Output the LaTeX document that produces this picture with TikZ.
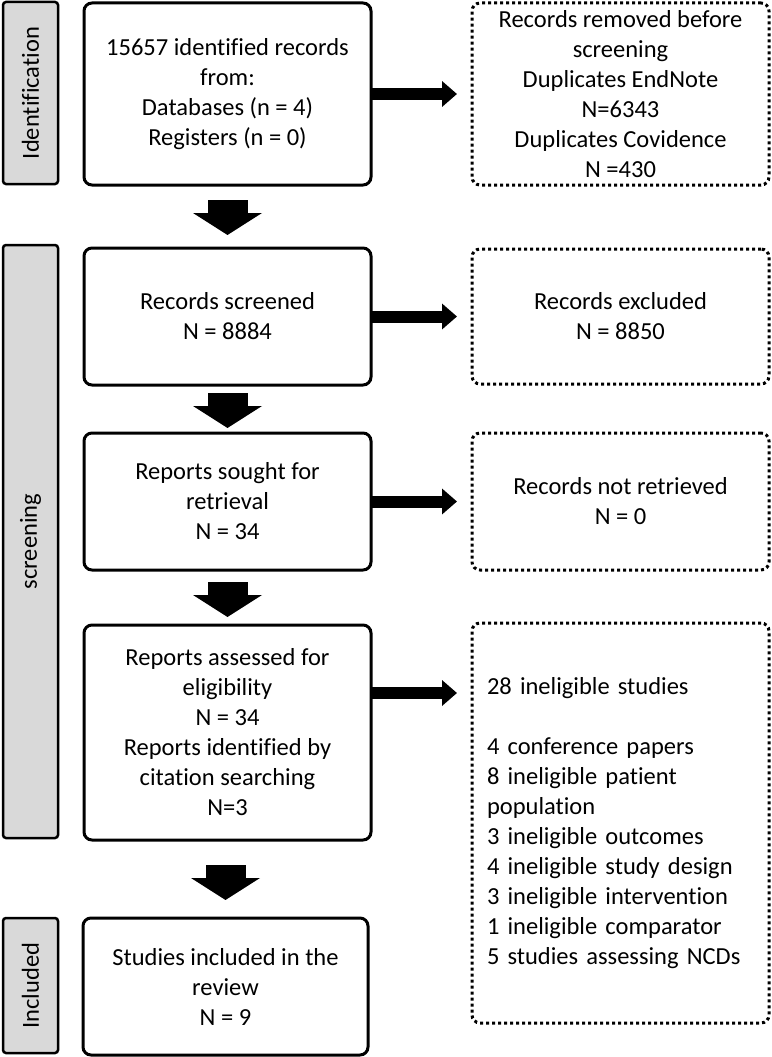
\documentclass[tikz,border=0pt]{standalone}
\usepackage{fontspec}
\setmainfont{Carlito}[Ligatures=NoCommon]
\usetikzlibrary{arrows.meta}

\begin{document}
\begin{tikzpicture}[x=1pt,y=-1pt,
  box/.style={draw,line width=3pt,rounded corners=8pt,align=center,outer sep=0pt,
    inner sep=4pt,minimum width=287pt,font=\fontsize{24.5}{30}\selectfont},
  dotbox/.style={box,minimum width=297pt,dash pattern=on 3pt off 3pt},
  side/.style={draw,line width=2.5pt,rounded corners=3pt,fill=black!15,rotate=90,
    outer sep=0pt,minimum height=55pt,font=\fontsize{24.5}{30}\selectfont},
  down/.style={line width=40pt,-{Triangle[width=68pt,length=22pt]}},
  across/.style={line width=12pt,-{Triangle[width=25pt,length=15pt]},shorten >=15pt}]
\useasboundingbox (0,0) rectangle (771,1057);
% phase labels
\node[side,minimum width=182pt] (sid) at (30.5,93) {Identification};
\node[side,minimum width=593pt] (sscr) at (30.5,541.5) {screening};
\node[side,minimum width=135pt] (sinc) at (30.5,985.5) {Included};
% main column
\node[box,minimum height=182pt] (b1) at (227.5,94)
  {15657 identified records\\from:\\Databases (n = 4)\\Registers (n = 0)};
\node[box,minimum height=137pt] (b2) at (227.5,316.5) {Records screened\\N = 8884};
\node[box,minimum height=137pt] (b3) at (227.5,501.5) {Reports sought for\\retrieval\\N = 34};
\node[box,minimum height=215pt] (b4) at (227.5,732.5)
  {Reports assessed for\\eligibility\\N = 34\\Reports identified by\\citation searching\\N=3};
\node[box,minimum width=285pt,minimum height=137pt] (b5) at (225.5,986.5)
  {Studies included in the\\review\\N = 9};
% exclusions
\node[dotbox,minimum height=182pt] (r1) at (620.5,94)
  {Records removed before\\screening\\Duplicates EndNote\\N=6343\\Duplicates Covidence\\N =430};
\node[dotbox,minimum height=135pt] (r2) at (620.5,316.5) {Records excluded\\N = 8850};
\node[dotbox,minimum height=137pt] (r3) at (620.5,501.5) {Records not retrieved\\N = 0};
\node[dotbox,minimum height=400pt,align=left,inner xsep=15pt,text width=267pt] (r4) at (620.5,823)
  {28 ineligible studies\\[30pt]4 conference papers\\8 ineligible patient\\population\\
   3 ineligible outcomes\\4 ineligible study design\\3 ineligible intervention\\
   1 ineligible comparator\\5 studies assessing NCDs};
% arrows down
\draw[down,shorten <=15pt,shorten >=13pt] (b1) -- (b2);
\draw[down,shorten <=8pt,shorten >=5pt] (b2) -- (b3);
\draw[down,shorten <=12pt,shorten >=8pt] (b3) -- (b4);
\draw[down,shorten <=25pt,shorten >=18pt] (b5.north |- b4.south) -- (b5.north);
% arrows across
\draw[across] (b1) -- (r1);
\draw[across] (b2) -- (r2);
\draw[across] (b3) -- (r3);
\coordinate (a4) at ([yshift=39.5pt]b4.east);
\draw[across] (a4) -- (a4 -| r4.west);
\end{tikzpicture}
\end{document}
